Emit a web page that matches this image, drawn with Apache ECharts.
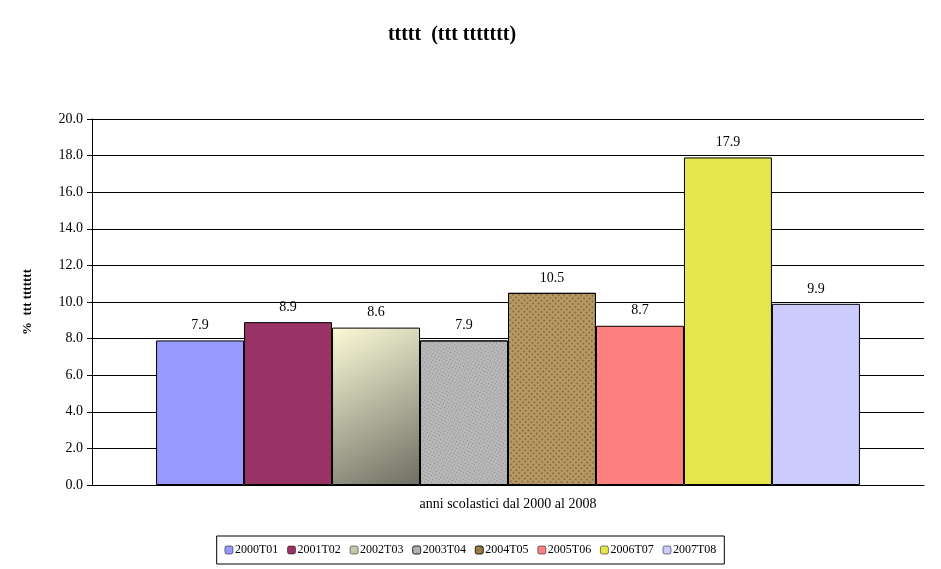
<!DOCTYPE html>
<html><head><meta charset="utf-8">
<script src="https://cdn.jsdelivr.net/npm/echarts@6/dist/echarts.min.js"></script>
<style>html,body{margin:0;background:#fff}#c{width:941px;height:569px}</style>
</head><body><div id="c"></div>
<script>
const seriesNames = ['2000T01','2001T02','2002T03','2003T04','2004T05','2005T06','2006T07','2007T08'];
const values = [7.9, 8.9, 8.6, 7.9, 10.5, 8.7, 17.9, 9.9];
const category = ['anni scolastici dal 2000 al 2008'];
const G = echarts.graphic;
const colors = [
  '#9999ff', '#993366',
  new G.LinearGradient(0,0,1,1,[{offset:0,color:'#fbfbd8'},{offset:1,color:'#6e6e64'}]),
  '#b8b8b8',
  '#b89a66',
  '#ff8080', '#e6e64c', '#ccccff'
];
const decals = [null,null,null,
  {symbol:'rect',color:'rgba(90,90,90,0.5)',dashArrayX:[1,2],dashArrayY:[1,2],rotation:0.5,symbolSize:1},
  {symbol:'rect',color:'rgba(120,90,40,0.6)',dashArrayX:[2,2],dashArrayY:[2,2],rotation:0.8,symbolSize:1},
  null,null,null];
const legendColors = ['#9999ff','#993366','#c8c8b0','#b8b8b8','#a08050','#ff8080','#e6e64c','#ccccff'];
const chart = echarts.init(document.getElementById('c'));
const font = 'Liberation Serif';
chart.setOption({
  animation:false,
  textStyle:{fontFamily:font},
  title:{text:'ttttt  (ttt ttttttt)',left:447,top:20,textAlign:'center',textStyle:{fontFamily:font,fontSize:20,fontWeight:'bold',color:'#000'}},
  grid:{left:92,right:17,top:119,bottom:84},
  legend:{bottom:5,left:'center',width:600,itemWidth:8,itemHeight:8,itemGap:9,borderColor:'#000',borderWidth:1,padding:[8,8],
    textStyle:{fontFamily:font,fontSize:12,color:'#000',padding:[0,0,0,-3]},
    data:seriesNames.map((n,i)=>({name:n,itemStyle:{color:legendColors[i],borderColor:'#000',borderWidth:0.5}}))},
  xAxis:{type:'category',data:category,axisTick:{show:false},axisLine:{lineStyle:{color:'#000'}},
    axisLabel:{fontFamily:font,fontSize:14,color:'#000',margin:12}},
  yAxis:{type:'value',min:0,max:20,interval:2,name:'%  ttt ttttttt',nameLocation:'middle',nameGap:58,
    nameTextStyle:{fontFamily:font,fontSize:13,fontWeight:'bold',color:'#000'},
    axisLine:{show:true,lineStyle:{color:'#000'}},axisTick:{show:true,inside:false,length:5,lineStyle:{color:'#000'}},
    axisLabel:{formatter:v=>v.toFixed(1),fontFamily:font,fontSize:14,color:'#000',margin:9},
    splitLine:{lineStyle:{color:'#000'}}},
  series:seriesNames.map((n,i)=>({name:n,type:'bar',data:[values[i]],barGap:'0%',barCategoryGap:'15.4%',
    itemStyle:{color:colors[i],borderColor:'#000',borderWidth:1,decal:decals[i]||undefined},
    label:{show:true,position:'top',distance:8,formatter:p=>p.value.toFixed(1),fontFamily:font,fontSize:14,color:'#000'}}))
});
</script></body></html>
